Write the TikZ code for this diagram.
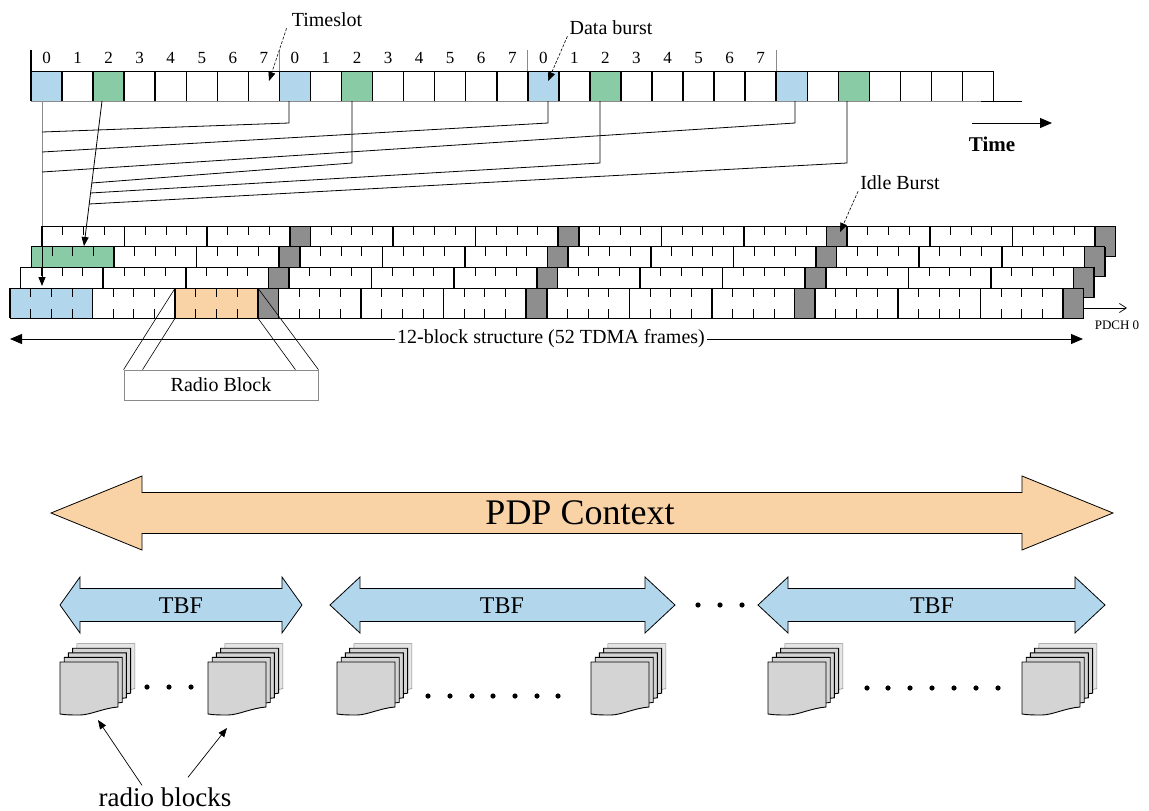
\documentclass[tikz,border=0pt]{standalone}
\usepackage{fontspec}
\setmainfont{Liberation Serif}
\usetikzlibrary{arrows.meta,positioning,calc}
\definecolor{burstblue}{HTML}{B2D7EC}
\definecolor{burstgreen}{HTML}{88CBA4}
\definecolor{blockorange}{HTML}{F9D3A6}
\definecolor{idlegray}{HTML}{8E8E8E}
\definecolor{pagegray}{HTML}{D4D4D4}
\definecolor{rule}{HTML}{8A8A8A}

\newcommand{\ptsize}[1]{\fontsize{#1}{#1}\selectfont}
% fat double arrow: colour, left tip, right tip, mid y, half shaft, half head, head length
\newcommand{\fatarrow}[7]{%
  \filldraw[fill=#1,draw=black,line width=0.8pt]
    (#2,#4) -- (#2+#7,#4-#6) -- (#2+#7,#4-#5) -- (#3-#7,#4-#5) -- (#3-#7,#4-#6)
    -- (#3,#4) -- (#3-#7,#4+#6) -- (#3-#7,#4+#5) -- (#2+#7,#4+#5)
    -- (#2+#7,#4+#6) -- cycle;}
% stack of radio block pages, #1 name, (#2,#3) top left of the front page
\newcommand{\pagestack}[3]{%
  \filldraw[fill=pagegray!60,draw=rule,line width=0.6pt,shift={(#2+16.8,#3-18.4)}]
    (0,0) -- (58,0) -- (58,45) -- (40,49) -- (0,49) -- cycle;
  \foreach \p in {3,2,1,0}{
    \filldraw[fill=pagegray,draw=black,line width=0.9pt,shift={(#2+4.2*\p,#3-4.6*\p)}]
      (0,0) -- (58,0) -- (58,45) .. controls (44,46) and (30,53) .. (20,53)
      .. controls (12,53) and (6,53) .. (0,52) -- cycle;}
  \coordinate (#1) at (#2,#3);}

\begin{document}
\begin{tikzpicture}[x=1pt,y=-1pt,font=\ptsize{20},>={Triangle[length=9pt,width=7pt]},
  lbl/.style={inner sep=0pt},
  slotnum/.style={font=\ptsize{17},inner sep=0pt},
  leader/.style={->,line width=0.6pt,dash pattern=on 3pt off 1.5pt},
  feed/.style={line width=0.8pt},
  bigtip/.style={line width=0.8pt,>={Triangle[length=12pt,width=10pt]}}]
  \fill[white] (0,0) rectangle (1149,811);
  \useasboundingbox (0,0) rectangle (1149,811);

  % air interface: tdma frames of eight timeslots
  \fill[white] (31,71) rectangle (993.6,101);
  \foreach \f in {0,...,3}{
    \fill[burstblue] (31+248.4*\f,71) rectangle ++(31.05,30);
    \fill[burstgreen] (31+248.4*\f+62.1,71) rectangle ++(31.05,30);}
  \draw[line width=0.9pt] (31,101) -- (31,71) -- (993.6,71) -- (993.6,101);
  \draw[draw=rule,line width=0.9pt] (31,101) -- (981,101);
  \draw[line width=0.9pt] (981,101) -- (1022,101);
  \foreach \n in {1,...,30} \draw[line width=1.5pt] (31+31.05*\n,71) -- ++(0,30);
  \foreach \f in {0,...,3} \draw[draw=rule,line width=0.8pt] (31+248.4*\f,50) -- ++(0,21);
  \draw[line width=1.2pt] (31,50) -- (31,101);
  \foreach \f in {0,1,2}\foreach \s in {0,...,7}
    \node[slotnum] at (46.5+248.4*\f+31.05*\s,58) {\s};

  % time axis
  \coordinate (timeL) at (972,123);
  \coordinate (timeR) at (1052,123);
  \draw[bigtip,->] (timeL) -- (timeR);
  \node[lbl,font=\ptsize{21}\bfseries] (time) at (992,144) {Time};

  % four pdch rows of the 52-multiframe, back to front
  \foreach \r in {0,...,3}{
    \pgfmathsetmacro{\xo}{42-10.67*\r}
    \pgfmathsetmacro{\yo}{226+20.67*\r}
    \filldraw[fill=white,draw=black,line width=0.9pt] (\xo,\yo) rectangle ++(1073.6,30);
    \foreach \rr/\kk/\cc in {1/0/burstgreen,3/0/burstblue,3/2/blockorange}{
      \ifnum\r=\rr\relax \fill[\cc] (\xo+\kk*82.6,\yo) rectangle ++(82.6,30); \fi}
    \foreach \g in {0,...,3}{
      \pgfmathsetmacro{\xg}{\xo+\g*268.4}
      \fill[idlegray] (\xg+247.8,\yo) rectangle ++(20.6,30);
      \foreach \k in {0,1,2}{
        \foreach \t in {1,2,3}{
          \draw[line width=0.8pt] (\xg+\k*82.6+\t*20.65,\yo) -- ++(0,9)
                                  (\xg+\k*82.6+\t*20.65,\yo+30) -- ++(0,-9);}
        \draw[line width=1.6pt] (\xg+\k*82.6,\yo) -- ++(0,30);}
      \draw[line width=1.6pt] (\xg+247.8,\yo) -- ++(0,30) (\xg+268.4,\yo) -- ++(0,30);}
    \draw[line width=0.9pt] (\xo,\yo) rectangle ++(1073.6,30);
  }

  % bursts fed down to the pdch rows
  \coordinate (blueIn) at (42,286);
  \coordinate (greenIn) at (84,246);
  \draw[feed,draw=rule] (42,101) -- (42,226);
  \draw[feed,->] (42,226) -- (blueIn);
  \draw[feed,->] (102,101) -- (greenIn);
  \foreach \x/\yy in {289/132,548/152,795/172}
    \draw[feed] (\x,101) -- (\x,123) -- (42,\yy);
  \foreach \x/\yy/\xe in {352/183/91.6,600/193/90.4,847/204/89}
    \draw[feed] (\x,101) -- (\x,163) -- (\xe,\yy);

  % block structure span and channel name
  \coordinate (spanL) at (10,339);
  \coordinate (spanR) at (1083,339);
  \draw[bigtip,<->] (spanL) -- (spanR);
  \node[fill=white,inner sep=2pt] (span) at (551,339) {12-block structure (52 TDMA frames)};
  \coordinate (pdchL) at (1084,308);
  \coordinate (pdchR) at (1127,308);
  \draw[line width=0.7pt,-{Straight Barb[length=7pt,width=9pt]}] (pdchL) -- (pdchR);
  \node[lbl,font=\ptsize{13}] (pdch) at (1117,325) {PDCH 0};

  % radio block callout
  \node[draw=rule,fill=white,line width=0.8pt,minimum width=194pt,minimum height=30pt,
        inner sep=0pt] (rbox) at (221,385) {Radio Block};
  \draw[line width=0.6pt] (175.2,288) -- (rbox.north west)
                          (175.2,318) -- ([xshift=19pt]rbox.north west)
                          (257.8,288) -- (rbox.north east)
                          (257.8,318) -- ([xshift=-23pt]rbox.north east);

  % labels with leaders
  \node[lbl] (tslot) at (327,20) {Timeslot};
  \coordinate (tsTip) at (269,81);
  \draw[leader] ([xshift=-5pt,yshift=-1pt]tslot.south west) -- (tsTip);
  \node[lbl] (dburst) at (611,28) {Data burst};
  \coordinate (dbTip) at (548,81);
  \draw[leader] ([xshift=-2pt,yshift=-1pt]dburst.south west) -- (dbTip);
  \node[lbl] (idle) at (900,183) {Idle Burst};
  \coordinate (idTip) at (840,232);
  \draw[leader] ([xshift=-2pt,yshift=-1pt]idle.south west) -- (idTip);

  % pdp context and its tbfs
  \fatarrow{blockorange}{51}{1113}{513}{20.5}{37}{91}
  \node[lbl,font=\ptsize{36}] (pdp) at (580,513) {PDP Context};
  \fatarrow{burstblue}{60}{302}{605}{16.5}{28}{20}
  \fatarrow{burstblue}{330}{675}{605}{16.5}{28}{30}
  \fatarrow{burstblue}{758}{1105}{605}{16.5}{28}{30}
  \node[lbl,font=\ptsize{24}] (tbfA) at (181,606) {TBF};
  \node[lbl,font=\ptsize{24}] (tbfB) at (502,606) {TBF};
  \node[lbl,font=\ptsize{24}] (tbfC) at (932,606) {TBF};
  \foreach \x in {698,720,742} \fill (\x,605) circle (2.6pt);

  % radio blocks carried by each tbf
  \pagestack{rbA}{60}{662}
  \pagestack{rbB}{208}{662}
  \pagestack{rbC}{337}{662}
  \pagestack{rbD}{591}{662}
  \pagestack{rbE}{768}{662}
  \pagestack{rbF}{1022}{662}
  \foreach \x in {147,169,191} \fill (\x,687) circle (2.6pt);
  \foreach \x in {428,450,472,493,515,537,558} \fill (\x,696) circle (2.6pt);
  \foreach \x in {867,888,910,932,954,976,998} \fill (\x,688) circle (2.6pt);

  \node[lbl,font=\ptsize{27}] (rblab) at (165,797) {radio blocks};
  \coordinate (rbTipA) at (98,720);
  \coordinate (rbTipB) at (227,728);
  \draw[line width=0.7pt,->] ([xshift=-23pt,yshift=2pt]rblab.north) -- (rbTipA);
  \draw[line width=0.7pt,->] ([xshift=23pt,yshift=10pt]rblab.north) -- (rbTipB);
\end{tikzpicture}
\end{document}
